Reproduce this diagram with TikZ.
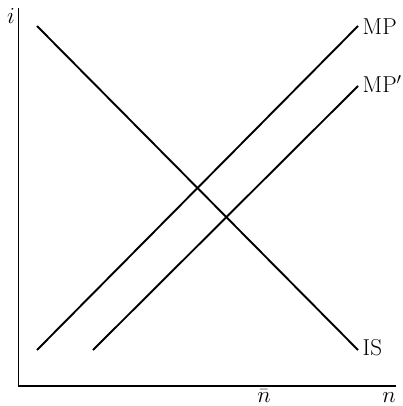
\documentclass[tikz,border=0pt]{standalone}
\usepackage{fix-cm}
\begin{document}
\begin{tikzpicture}[x=1pt,y=-1pt,
  curve/.style={line width=1.9pt},
  axis/.style={line width=1.3pt},
  lbl/.style={font=\fontsize{23}{27}\selectfont, inner sep=0pt}]
\useasboundingbox (0,0) rectangle (403,406);
% axes
\coordinate (otop) at (18.5,8);
\coordinate (o) at (18.5,386);
\coordinate (oright) at (395.5,386);
\draw[axis] (otop) -- (o) -- (oright);
% curves
\coordinate (is1) at (37,26);
\coordinate (is2) at (358,350);
\coordinate (mp1) at (37,350);
\coordinate (mp2) at (358,26);
\coordinate (mpp1) at (93,350);
\coordinate (mpp2) at (358,86);
\draw[curve] (is1) -- (is2);
\draw[curve] (mp1) -- (mp2);
\draw[curve] (mpp1) -- (mpp2);
% labels
\node[lbl, anchor=base west] (mpl) at (362.5,35) {MP};
\node[lbl, anchor=base west] (mppl) at (362.5,92.7) {MP$'$};
\node[lbl, anchor=base west] (isl) at (362.5,355) {IS};
\node[lbl, anchor=base] (il) at (11,24) {$i$};
\node[lbl, anchor=base] (nl) at (389,402) {$n$};
\node[lbl, anchor=base] (nbl) at (264,402) {$\bar n$};
\end{tikzpicture}
\end{document}
